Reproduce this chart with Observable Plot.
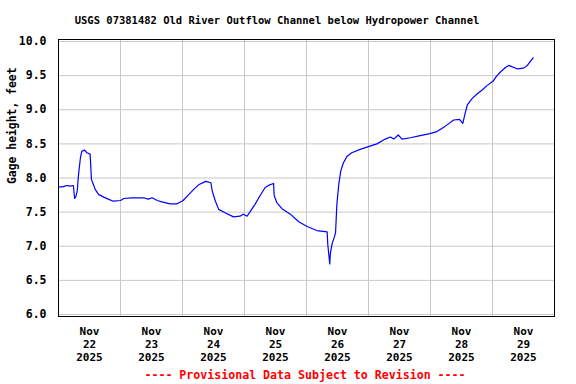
<!DOCTYPE html>
<html>
<head>
<meta charset="utf-8">
<script src="https://cdn.jsdelivr.net/npm/d3@7"></script>
<script src="https://cdn.jsdelivr.net/npm/@observablehq/plot@0.6"></script>
<style>
  html, body { margin: 0; padding: 0; background: #fff; }
  body { width: 576px; height: 384px; overflow: hidden; font-family: "DejaVu Sans Mono", "Liberation Mono", monospace; font-weight: bold; }
  #title { box-sizing: border-box; width: 576px; height: 30px; padding: 14px 22px 0 0; font-size: 10.5px; line-height: 12px; text-align: center; color: #000; }
  #caption { box-sizing: border-box; width: 576px; height: 18px; padding-left: 34px; font-size: 11.6px; line-height: 18px; text-align: center; color: #ff0000; }
  #chart svg { display: block; }
</style>
</head>
<body>
<div id="title">USGS 07381482 Old River Outflow Channel below Hydropower Channel</div>
<div id="chart"></div>
<div id="caption">---- Provisional Data Subject to Revision ----</div>
<script>
const times = [
  "2025-11-22T00:00Z","2025-11-22T01:30Z","2025-11-22T02:30Z","2025-11-22T03:30Z","2025-11-22T04:30Z",
  "2025-11-22T05:45Z","2025-11-22T06:15Z","2025-11-22T06:45Z","2025-11-22T07:15Z","2025-11-22T07:45Z",
  "2025-11-22T08:30Z","2025-11-22T09:00Z","2025-11-22T10:00Z","2025-11-22T11:00Z","2025-11-22T12:15Z",
  "2025-11-22T12:45Z","2025-11-22T13:15Z","2025-11-22T14:15Z","2025-11-22T15:30Z","2025-11-22T17:30Z",
  "2025-11-22T19:15Z","2025-11-22T21:15Z","2025-11-23T00:00Z","2025-11-23T01:15Z","2025-11-23T04:15Z",
  "2025-11-23T09:00Z","2025-11-23T10:45Z","2025-11-23T12:15Z","2025-11-23T14:15Z","2025-11-23T16:00Z",
  "2025-11-23T19:15Z","2025-11-23T21:45Z","2025-11-24T00:15Z","2025-11-24T02:30Z","2025-11-24T04:15Z",
  "2025-11-24T06:15Z","2025-11-24T09:00Z","2025-11-24T11:00Z","2025-11-24T11:30Z","2025-11-24T12:45Z",
  "2025-11-24T14:00Z","2025-11-24T16:30Z","2025-11-24T19:45Z","2025-11-24T22:15Z","2025-11-24T23:30Z",
  "2025-11-25T01:00Z","2025-11-25T02:15Z","2025-11-25T04:00Z","2025-11-25T06:00Z","2025-11-25T08:00Z",
  "2025-11-25T09:45Z","2025-11-25T11:15Z","2025-11-25T11:30Z","2025-11-25T12:30Z","2025-11-25T14:30Z",
  "2025-11-25T17:45Z","2025-11-25T21:00Z","2025-11-26T00:15Z","2025-11-26T04:00Z","2025-11-26T08:00Z",
  "2025-11-26T08:15Z","2025-11-26T08:30Z","2025-11-26T09:00Z","2025-11-26T09:15Z","2025-11-26T10:00Z",
  "2025-11-26T10:45Z","2025-11-26T11:15Z","2025-11-26T11:45Z","2025-11-26T12:30Z","2025-11-26T13:15Z",
  "2025-11-26T14:15Z","2025-11-26T15:45Z","2025-11-26T17:30Z","2025-11-26T20:45Z","2025-11-27T00:00Z",
  "2025-11-27T03:15Z","2025-11-27T06:30Z","2025-11-27T08:30Z","2025-11-27T09:45Z","2025-11-27T11:30Z",
  "2025-11-27T13:00Z","2025-11-27T16:15Z","2025-11-27T20:00Z","2025-11-27T23:45Z","2025-11-28T02:30Z",
  "2025-11-28T05:45Z","2025-11-28T09:00Z","2025-11-28T11:15Z","2025-11-28T12:30Z","2025-11-28T13:30Z",
  "2025-11-28T14:15Z","2025-11-28T16:00Z","2025-11-28T18:00Z","2025-11-28T20:00Z","2025-11-28T21:45Z",
  "2025-11-29T00:15Z","2025-11-29T01:30Z","2025-11-29T03:00Z","2025-11-29T05:00Z","2025-11-29T06:15Z",
  "2025-11-29T09:30Z","2025-11-29T12:00Z","2025-11-29T13:30Z","2025-11-29T14:30Z","2025-11-29T15:45Z"
];
const gage = [
  7.87, 7.87, 7.88, 7.89, 7.88,
  7.89, 7.70, 7.73, 7.81, 8.05,
  8.30, 8.39, 8.41, 8.37, 8.35,
  7.98, 7.93, 7.83, 7.76, 7.72,
  7.69, 7.66, 7.67, 7.70, 7.71,
  7.71, 7.69, 7.71, 7.67, 7.65,
  7.62, 7.62, 7.67, 7.76, 7.83,
  7.90, 7.95, 7.93, 7.81, 7.66,
  7.54, 7.49, 7.43, 7.44, 7.47,
  7.44, 7.51, 7.61, 7.74, 7.86,
  7.90, 7.92, 7.74, 7.64, 7.55,
  7.47, 7.36, 7.29, 7.23, 7.21,
  7.02, 6.93, 6.74, 6.90, 7.05,
  7.13, 7.20, 7.61, 7.91, 8.10,
  8.22, 8.32, 8.37, 8.42, 8.46,
  8.50, 8.57, 8.60, 8.57, 8.63,
  8.57, 8.59, 8.62, 8.65, 8.68,
  8.76, 8.85, 8.86, 8.80, 8.96,
  9.07, 9.16, 9.23, 9.29, 9.35,
  9.42, 9.49, 9.55, 9.62, 9.65,
  9.60, 9.61, 9.65, 9.70, 9.76
];
const xDomain = ["2025-11-22T00:00Z", "2025-11-30T00:00Z"];
const dayLines = ["2025-11-23T00:00Z","2025-11-24T00:00Z","2025-11-25T00:00Z","2025-11-26T00:00Z",
                  "2025-11-27T00:00Z","2025-11-28T00:00Z","2025-11-29T00:00Z"];
const tickDays = ["2025-11-22T12:00Z","2025-11-23T12:00Z","2025-11-24T12:00Z","2025-11-25T12:00Z",
                  "2025-11-26T12:00Z","2025-11-27T12:00Z","2025-11-28T12:00Z","2025-11-29T12:00Z"];
const tickLabels = ["Nov\n22\n2025","Nov\n23\n2025","Nov\n24\n2025","Nov\n25\n2025",
                    "Nov\n26\n2025","Nov\n27\n2025","Nov\n28\n2025","Nov\n29\n2025"];
const yTicks = [6.0, 6.5, 7.0, 7.5, 8.0, 8.5, 9.0, 9.5, 10.0];
const yLabel = "Gage height, feet";

const data = times.map((t, i) => ({date: new Date(t), value: gage[i]}));
const tickDates = tickDays.map(d => new Date(d));
const labelFor = d => tickLabels[tickDates.findIndex(t => +t === +d)];

const chart = Plot.plot({
  width: 576,
  height: 336,
  marginTop: 9,
  marginBottom: 50,
  marginLeft: 58,
  marginRight: 22,
  style: {fontFamily: '"DejaVu Sans Mono", monospace', fontSize: "11px", fontWeight: "bold", background: "#fff", color: "#000"},
  x: {type: "utc", domain: xDomain.map(d => new Date(d))},
  y: {domain: [6 - 2 / 68, 10 + 2 / 68]},
  marks: [
    Plot.gridY(yTicks, {stroke: "#c8c8c8", strokeOpacity: 1, strokeWidth: 1}),
    Plot.gridX(dayLines.map(d => new Date(d)), {stroke: "#c8c8c8", strokeOpacity: 1, strokeWidth: 1}),
    Plot.line(data, {x: "date", y: "value", stroke: "#0000ff", strokeWidth: 1.2}),
    Plot.frame({stroke: "#000", strokeWidth: 1}),
    Plot.axisY(yTicks, {tickSize: 0, tickPadding: 12, tickFormat: d3.format(".1f"), label: null, fontSize: 11.5, fontWeight: "bold"}),
    Plot.axisX(tickDates, {tickSize: 0, tickPadding: 9, tickFormat: labelFor, label: null, lineHeight: 1.18, fontSize: 11, fontWeight: "bold"}),
    Plot.text([yLabel], {frameAnchor: "left", rotate: -90, dx: -46, dy: 6, fontSize: 11.4, fontWeight: "bold", fill: "#000"})
  ]
});
document.getElementById("chart").appendChild(chart);
</script>
</body>
</html>
